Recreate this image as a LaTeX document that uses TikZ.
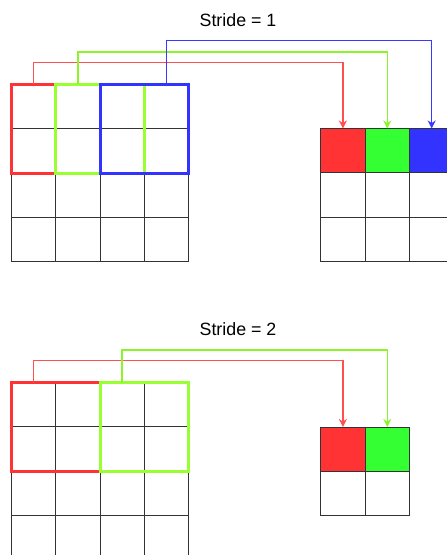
\documentclass[tikz,border=0pt]{standalone}
\usepackage{fontspec}
\setmainfont{Liberation Sans}
\usetikzlibrary{arrows.meta}
\definecolor{cred}{HTML}{FF3333}
\definecolor{cgreen}{HTML}{33FF33}
\definecolor{cblue}{HTML}{3333FF}
\definecolor{lred}{HTML}{FF5050}
\definecolor{lgreen}{HTML}{99FF33}
\definecolor{llgreen}{HTML}{8CF52A}
\definecolor{lblue}{HTML}{3838FF}
\definecolor{gridc}{HTML}{333333}
\tikzset{
  cell/.style={draw=gridc, line width=1bp, minimum width=44.4bp, minimum height=44.4bp, inner sep=0pt, outer sep=0pt, anchor=north west},
  win/.style={draw=#1, line width=3bp},
  conn/.style={draw=#1, line width=1.5bp, -{Stealth[length=8bp,width=8bp,inset=2.5bp]}},
  title/.style={font=\fontsize{17.8bp}{20bp}\selectfont, inner sep=0pt}
}
\begin{document}
\begin{tikzpicture}[x=1bp,y=-1bp]
\useasboundingbox (0,0) rectangle (447,555);
\clip (0,0) rectangle (447,555);
\fill[white] (0,0) rectangle (447,555);
% titles
\node[title] (t1) at (238,20) {Stride = 1};
\node[title] (t2) at (238,329) {Stride = 2};
% top-left 4x4 grid
\foreach \r in {0,...,3} \foreach \c in {0,...,3}
  \node[cell] (A\r\c) at ({11.2+44.4*\c},{84.3+44.4*\r}) {};
% top-right 3x3 grid
\foreach \r in {1,2} \foreach \c in {0,...,2}
  \node[cell] (B\r\c) at ({320.7+44.4*\c},{128.5+44.4*\r}) {};
\node[cell, fill=cred] (B00) at (320.7,128.5) {};
\node[cell, fill=cgreen] (B01) at (365.1,128.5) {};
\node[cell, fill=cblue] (B02) at (409.5,128.5) {};
% bottom-left 4x4 grid
\foreach \r in {0,...,3} \foreach \c in {0,...,3}
  \node[cell] (C\r\c) at ({11.2+44.4*\c},{382.5+44.4*\r}) {};
% bottom-right 2x2 grid
\foreach \c in {0,1}
  \node[cell] (D1\c) at ({320.7+44.4*\c},{471.4}) {};
\node[cell, fill=cred] (D00) at (320.7,427) {};
\node[cell, fill=cgreen] (D01) at (365.1,427) {};
% windows top
\draw[win=cred] (A00.north west) rectangle (A10.south east);
\draw[win=lgreen] (A01.north west) rectangle (A12.south east);
\draw[win=cblue] (A02.north west) rectangle (A13.south east);
\draw[lgreen, line width=3bp] (A01.north west) -- (A11.south west);
% connectors top
\coordinate (r1) at (0,62.5);
\coordinate (g1) at (0,52);
\coordinate (b1) at (0,40.5);
\draw[conn=lred] (A00.north) -- (A00.north |- r1) -| (B00.north);
\draw[conn=llgreen] (A01.north) -- (A01.north |- g1) -| (B01.north);
\draw[conn=lblue] (A03.north) -- (A03.north |- b1) -| (B02.north);
% windows bottom
\draw[win=cred] (C00.north west) rectangle (C11.south east);
\draw[win=lgreen] (C02.north west) rectangle (C13.south east);
% connectors bottom
\coordinate (r2) at (0,360.5);
\coordinate (g2) at (0,350);
\draw[conn=lred] (C00.north) -- (C00.north |- r2) -| (D00.north);
\draw[conn=llgreen] (C02.north) -- (C02.north |- g2) -| (D01.north);
\end{tikzpicture}
\end{document}
